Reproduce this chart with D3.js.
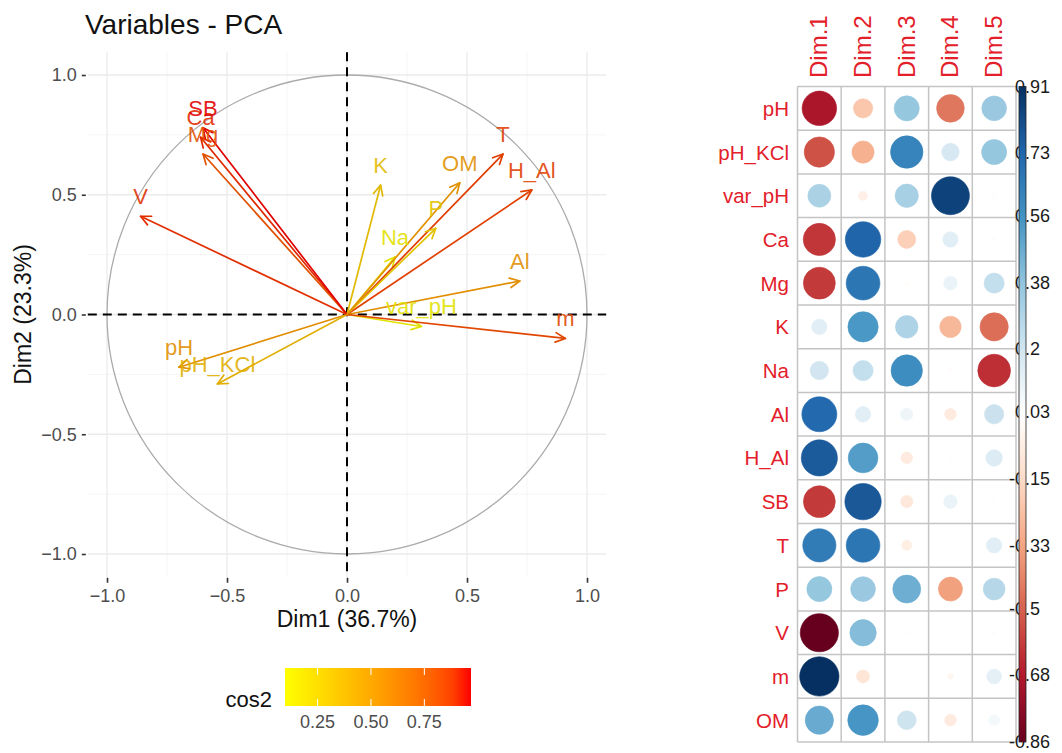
<!DOCTYPE html>
<html>
<head>
<meta charset="utf-8">
<script src="https://cdn.jsdelivr.net/npm/d3@7"></script>
<style>
  body { margin: 0; background: #fff; }
  svg { display: block; font-family: "Liberation Sans", Arial, Helvetica, sans-serif; }
</style>
</head>
<body>
<svg id="chart" width="1062" height="753"></svg>
<script>
// Soil variables and their correlations with the first five principal dimensions
const variables = ["pH", "pH_KCl", "var_pH", "Ca", "Mg", "K", "Na", "Al", "H_Al", "SB", "T", "P", "V", "m", "OM"];
const dims = ["Dim.1", "Dim.2", "Dim.3", "Dim.4", "Dim.5"];
const dim1 = [-0.70, -0.54, 0.31, -0.61, -0.60, 0.14, 0.20, 0.72, 0.77, -0.60, 0.65, 0.37, -0.86, 0.91, 0.47];
const dim2 = [-0.22, -0.29, -0.05, 0.74, 0.67, 0.54, 0.24, 0.14, 0.52, 0.78, 0.67, 0.36, 0.41, -0.10, 0.55];
const dim3 = [0.37, 0.62, 0.32, -0.19, 0.01, 0.30, 0.58, 0.09, -0.08, -0.09, -0.06, 0.46, 0.02, 0.00, 0.21];
const dim4 = [-0.45, 0.18, 0.85, 0.14, 0.11, -0.27, 0.01, -0.08, 0.02, 0.11, 0.02, -0.34, 0.02, -0.02, -0.08];
const dim5 = [0.36, 0.37, 0.03, 0.01, 0.24, -0.47, -0.63, 0.22, 0.16, 0.02, 0.14, 0.28, 0.01, 0.13, 0.07];

// Axis percentages and tick labels
const dim1Label = "Dim1 (36.7%)";
const dim2Label = "Dim2 (23.3%)";
const pcaTicks = [-1.0, -0.5, 0.0, 0.5, 1.0];
const pcaMinorTicks = [-0.75, -0.25, 0.25, 0.75];
const cos2Ticks = [0.25, 0.50, 0.75];
const corrTicks = [0.91, 0.73, 0.56, 0.38, 0.2, 0.03, -0.15, -0.33, -0.5, -0.68, -0.86];

const FONT = "'Liberation Sans', Arial, Helvetica, sans-serif";
const svg = d3.select("#chart");

// ================= Correlation circle (left panel) =================
const x = d3.scaleLinear().domain([-1, 1]).range([107, 587]);
const y = d3.scaleLinear().domain([-1, 1]).range([554, 75]);
const xLim = [-1.08, 1.08], yLim = [-1.095, 1.095];
const pL = x(xLim[0]), pR = x(xLim[1]), pT = y(yLim[1]), pB = y(yLim[0]);

const cos2 = variables.map((v, i) => dim1[i] * dim1[i] + dim2[i] * dim2[i]);
const cosExtent = d3.extent(cos2);
const cosColor = d3.scaleLinear().domain(cosExtent).range(["#FFFF00", "#FF0000"]).interpolate(d3.interpolateLab);
// thin strokes and glyphs read a little deeper than the legend bar
const markColor = v => d3.color(cosColor(v)).darker(0.35).formatHex();

const pca = svg.append("g");

// grid
pca.selectAll(".minorX").data(pcaMinorTicks).join("line")
  .attr("x1", d => x(d)).attr("x2", d => x(d)).attr("y1", pT).attr("y2", pB)
  .attr("stroke", "#F2F2F2").attr("stroke-width", 0.8);
pca.selectAll(".minorY").data(pcaMinorTicks).join("line")
  .attr("y1", d => y(d)).attr("y2", d => y(d)).attr("x1", pL).attr("x2", pR)
  .attr("stroke", "#F2F2F2").attr("stroke-width", 0.8);
pca.selectAll(".majorX").data(pcaTicks).join("line")
  .attr("x1", d => x(d)).attr("x2", d => x(d)).attr("y1", pT).attr("y2", pB)
  .attr("stroke", "#EBEBEB").attr("stroke-width", 1.3);
pca.selectAll(".majorY").data(pcaTicks).join("line")
  .attr("y1", d => y(d)).attr("y2", d => y(d)).attr("x1", pL).attr("x2", pR)
  .attr("stroke", "#EBEBEB").attr("stroke-width", 1.3);

// unit circle
pca.append("ellipse")
  .attr("cx", x(0)).attr("cy", y(0))
  .attr("rx", x(1) - x(0)).attr("ry", y(0) - y(1))
  .attr("fill", "none").attr("stroke", "#ABABAB").attr("stroke-width", 1.3);

// axes ticks and labels
const yAxis = d3.axisLeft(y).tickValues(pcaTicks).tickFormat(d3.format(".1f")).tickSize(4).tickPadding(5);
const xAxis = d3.axisBottom(x).tickValues(pcaTicks).tickFormat(d3.format(".1f")).tickSize(5).tickPadding(6);
const gy = pca.append("g").attr("transform", `translate(${pL - 2},0)`).call(yAxis);
const gx = pca.append("g").attr("transform", `translate(0,${pB + 1})`).call(xAxis);
[gy, gx].forEach(g => {
  g.select(".domain").remove();
  g.selectAll(".tick line").attr("stroke", "#333").attr("stroke-width", 1.6);
  g.selectAll(".tick text").attr("fill", "#4D4D4D").attr("font-size", 18).attr("font-family", FONT);
});

// dashed zero lines
pca.append("line").attr("x1", pL).attr("x2", pR).attr("y1", y(0)).attr("y2", y(0))
  .attr("stroke", "#000").attr("stroke-width", 2).attr("stroke-dasharray", "9,6");
pca.append("line").attr("y1", pT).attr("y2", pB).attr("x1", x(0)).attr("x2", x(0))
  .attr("stroke", "#000").attr("stroke-width", 2).attr("stroke-dasharray", "9,6");

// arrows
const headLen = 11, headAng = Math.PI / 7;
const arrows = pca.append("g");
variables.forEach((name, i) => {
  const x0 = x(0), y0 = y(0), x1 = x(dim1[i]), y1 = y(dim2[i]);
  const col = markColor(cos2[i]);
  const a = Math.atan2(y1 - y0, x1 - x0);
  const p1 = [x1 - headLen * Math.cos(a - headAng), y1 - headLen * Math.sin(a - headAng)];
  const p2 = [x1 - headLen * Math.cos(a + headAng), y1 - headLen * Math.sin(a + headAng)];
  const g = arrows.append("g").attr("stroke", col).attr("stroke-width", 1.7).attr("fill", "none")
    .attr("stroke-linecap", "round").attr("stroke-linejoin", "round");
  g.append("line").attr("x1", x0).attr("y1", y0).attr("x2", x1).attr("y2", y1);
  g.append("path").attr("d", `M${p1[0]},${p1[1]}L${x1},${y1}L${p2[0]},${p2[1]}`);
});
variables.forEach((name, i) => {
  arrows.append("text")
    .attr("x", x(dim1[i])).attr("y", y(dim2[i]) - 12)
    .attr("text-anchor", "middle").attr("font-size", 22).attr("font-family", FONT)
    .attr("fill", markColor(cos2[i])).attr("fill-opacity", 0.9)
    .text(name);
});

// titles
svg.append("text").attr("x", 85).attr("y", 34).attr("font-size", 28).attr("font-family", FONT)
  .attr("fill", "#111").text("Variables - PCA");
svg.append("text").attr("x", x(0)).attr("y", 627).attr("text-anchor", "middle")
  .attr("font-size", 23).attr("font-family", FONT).attr("fill", "#111").text(dim1Label);
svg.append("text").attr("transform", `translate(31,${y(0)}) rotate(-90)`).attr("text-anchor", "middle")
  .attr("font-size", 23).attr("font-family", FONT).attr("fill", "#111").text(dim2Label);

// cos2 legend
const lx = d3.scaleLinear().domain(cosExtent).range([285, 471]);
const defs = svg.append("defs");
const lg = defs.append("linearGradient").attr("id", "cosGrad").attr("x1", "0%").attr("x2", "100%");
d3.range(0, 1.0001, 0.1).forEach(t => {
  lg.append("stop").attr("offset", `${t * 100}%`)
    .attr("stop-color", cosColor(cosExtent[0] + t * (cosExtent[1] - cosExtent[0])));
});
svg.append("rect").attr("x", 285).attr("y", 668).attr("width", 186).attr("height", 38).attr("fill", "url(#cosGrad)");
cos2Ticks.forEach(t => {
  svg.append("line").attr("x1", lx(t)).attr("x2", lx(t)).attr("y1", 668).attr("y2", 675).attr("stroke", "#fff").attr("stroke-width", 1);
  svg.append("line").attr("x1", lx(t)).attr("x2", lx(t)).attr("y1", 699).attr("y2", 706).attr("stroke", "#fff").attr("stroke-width", 1);
  svg.append("text").attr("x", lx(t)).attr("y", 728).attr("text-anchor", "middle")
    .attr("font-size", 18).attr("font-family", FONT).attr("fill", "#4D4D4D").text(d3.format(".2f")(t));
});
svg.append("text").attr("x", 272).attr("y", 707).attr("text-anchor", "end")
  .attr("font-size", 22).attr("font-family", FONT).attr("fill", "#111").text("cos2");

// ================= Correlation matrix (right panel) =================
const matrix = variables.map((v, i) => [dim1[i], dim2[i], dim3[i], dim4[i], dim5[i]]);
const cmin = d3.min(corrTicks), cmax = d3.max(corrTicks);
const rdbu = ["#67001F", "#B2182B", "#D6604D", "#F4A582", "#FDDBC7", "#FFFFFF",
              "#D1E5F0", "#92C5DE", "#4393C3", "#2166AC", "#053061"];
const corrColor = d3.scaleLinear()
  .domain(rdbu.map((c, k) => cmin + k * (cmax - cmin) / (rdbu.length - 1)))
  .range(rdbu);

const gx0 = 797.5, gy0 = 86.5, cell = 43.7;
const cx = d3.scaleBand().domain(dims).range([gx0, gx0 + cell * dims.length]);
const cy = d3.scaleBand().domain(variables).range([gy0, gy0 + cell * variables.length]);
const rScale = d3.scaleSqrt().domain([0, d3.max([Math.abs(cmin), cmax])]).range([0, cell * 0.45]);

const cp = svg.append("g");
// grid
d3.range(dims.length + 1).forEach(k => {
  cp.append("line").attr("x1", gx0 + k * cell).attr("x2", gx0 + k * cell)
    .attr("y1", gy0).attr("y2", gy0 + cell * variables.length)
    .attr("stroke", "#C4C4C4").attr("stroke-width", 1.5);
});
d3.range(variables.length + 1).forEach(k => {
  cp.append("line").attr("y1", gy0 + k * cell).attr("y2", gy0 + k * cell)
    .attr("x1", gx0).attr("x2", gx0 + cell * dims.length)
    .attr("stroke", "#C4C4C4").attr("stroke-width", 1.5);
});
// circles
variables.forEach((v, i) => {
  dims.forEach((d, j) => {
    const val = matrix[i][j];
    cp.append("circle")
      .attr("cx", cx(d) + cx.bandwidth() / 2)
      .attr("cy", cy(v) + cy.bandwidth() / 2)
      .attr("r", rScale(Math.abs(val)))
      .attr("fill", corrColor(val)).attr("stroke", corrColor(val)).attr("stroke-width", 0.6);
  });
});
// row labels
cp.selectAll(".rowlab").data(variables).join("text")
  .attr("x", 789).attr("y", d => cy(d) + cy.bandwidth() / 2 + 7.5)
  .attr("text-anchor", "end").attr("font-size", 20.5).attr("font-family", FONT)
  .attr("fill", "#E3202A").text(d => d);
// column labels
cp.selectAll(".collab").data(dims).join("text")
  .attr("transform", d => `translate(${cx(d) + cx.bandwidth() / 2 + 8},78) rotate(-90)`)
  .attr("text-anchor", "start").attr("font-size", 24).attr("font-family", FONT)
  .attr("fill", "#E3202A").text(d => d);

// colour legend
const cby = d3.scaleLinear().domain([cmin, cmax]).range([gy0 + cell * variables.length, gy0]);
cp.selectAll(".cblab").data(corrTicks).join("text")
  .attr("x", d => d < 0 ? 1009 : 1015)
  .attr("y", d => cby(d) + 6)
  .attr("font-size", 18).attr("font-family", FONT).attr("fill", "#1A1A1A")
  .text(d => d);
const cg = defs.append("linearGradient").attr("id", "corrGrad")
  .attr("x1", "0%").attr("x2", "0%").attr("y1", "100%").attr("y2", "0%");
rdbu.forEach((c, k) => cg.append("stop").attr("offset", `${k * 10}%`).attr("stop-color", c));
cp.append("rect").attr("x", 1019).attr("y", gy0).attr("width", 7).attr("height", cell * variables.length)
  .attr("fill", "url(#corrGrad)").attr("stroke", "#222").attr("stroke-width", 0.8);
</script>
</body>
</html>
